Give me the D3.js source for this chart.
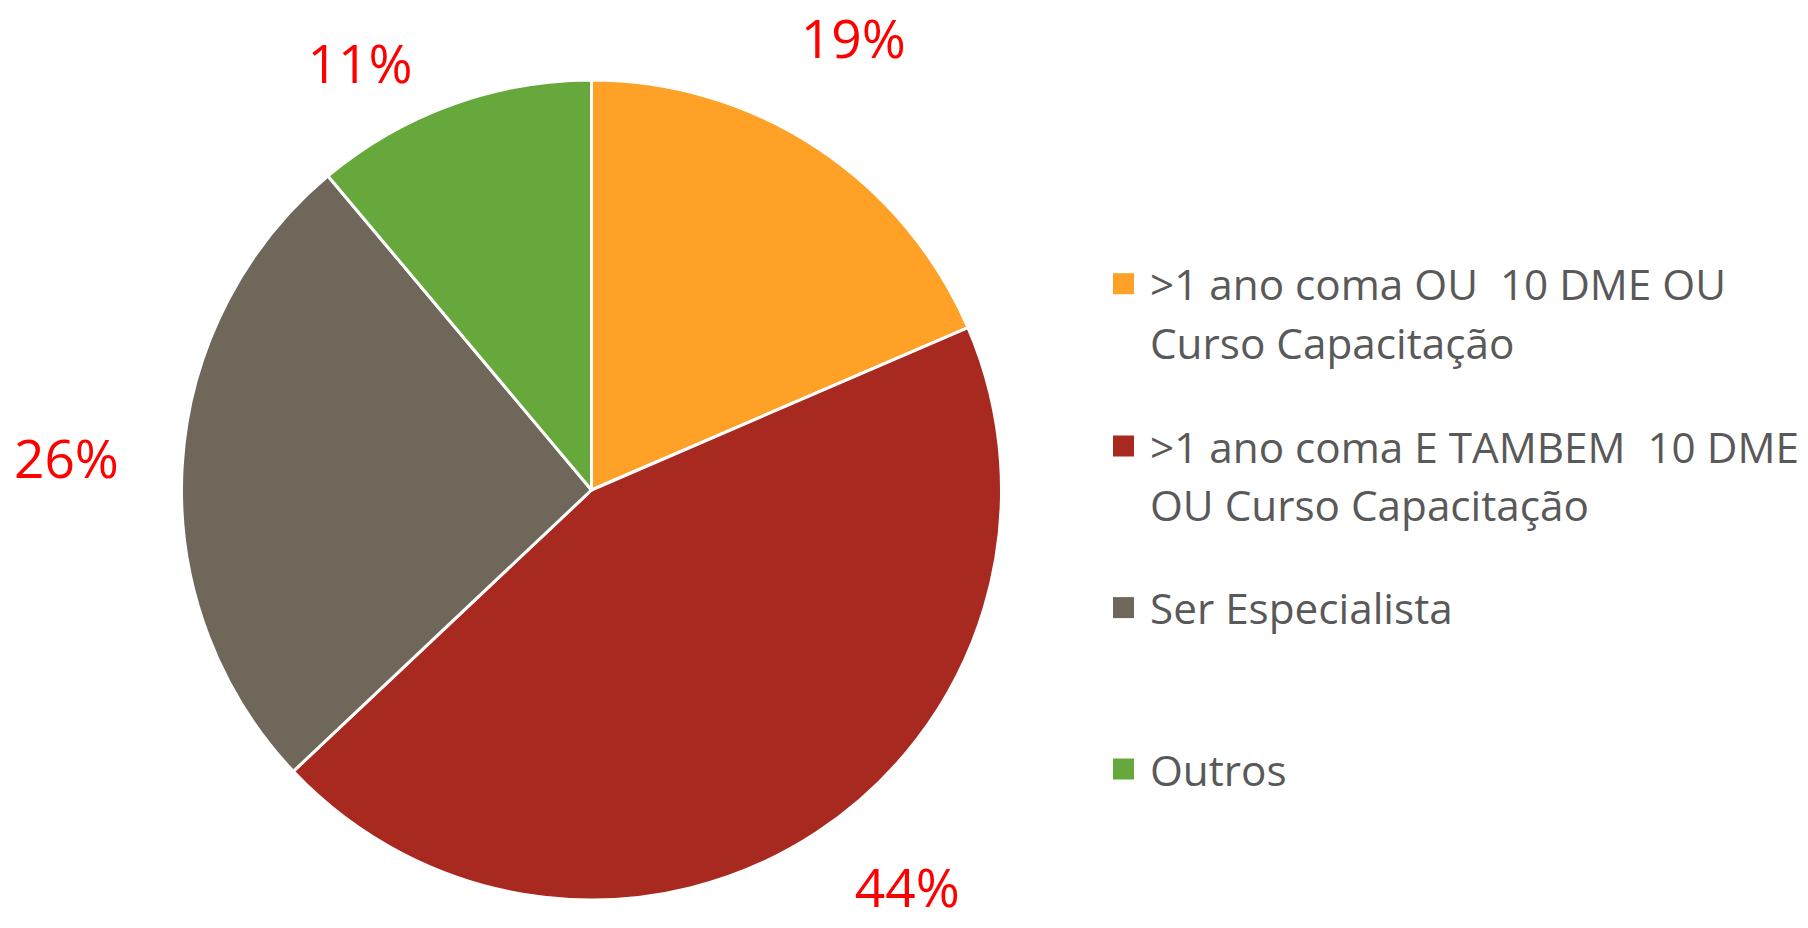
<!DOCTYPE html>
<html><head><meta charset="utf-8">
<script src="https://cdn.jsdelivr.net/npm/d3@7"></script>
<style>html,body{margin:0;padding:0;background:#fff;}svg{display:block;}</style>
</head><body>
<svg id="chart" width="1808" height="928"></svg>
<script>
// Data
const categories = [
  [">1 ano coma OU  10 DME OU", "Curso Capacitação"],
  [">1 ano coma E TAMBEM  10 DME", "OU Curso Capacitação"],
  ["Ser Especialista"],
  ["Outros"]
];
const counts = [5, 12, 7, 3];
const percentLabels = ["19%", "44%", "26%", "11%"];
const colors = ["#FFA126", "#A8291F", "#6F6759", "#67A83D"];

const W = 1808, H = 928;
const svg = d3.select("#chart");
const cx = 591.5, cy = 490, R = 410;

const pie = d3.pie().sort(null).value(d => d)(counts);
const arc = d3.arc().innerRadius(0).outerRadius(R);

const g = svg.append("g").attr("transform", `translate(${cx},${cy})`);
g.selectAll("path").data(pie).join("path")
  .attr("d", arc)
  .attr("fill", (d, i) => colors[i])
  .attr("stroke", "#fff")
  .attr("stroke-width", 3)
  .attr("stroke-linejoin", "round");

// Percentage labels: placed outside along the slice mid-angle, with nudges
const labelArc = d3.arc().innerRadius(522).outerRadius(522);
const labelNudge = [[-25, -16], [29, -40], [-4, -2], [-53, 63]];
const lbl = g.selectAll("text.pct").data(pie).join("text")
  .attr("class", "pct")
  .attr("font-family", "Open Sans, sans-serif")
  .attr("font-size", 54)
  .attr("fill", "#FF0000")
  .attr("text-anchor", "middle")
  .attr("dominant-baseline", "central")
  .text((d, i) => percentLabels[i]);
// fit font size so "26%" is ~105px wide
const w26 = lbl.filter((d, i) => i === 2).node().getComputedTextLength();
const pctSize = 54 * 105 / w26;
lbl.attr("font-size", pctSize)
  .attr("x", (d, i) => labelArc.centroid(d)[0] + labelNudge[i][0])
  .attr("y", (d, i) => labelArc.centroid(d)[1] + labelNudge[i][1]);

// Legend
const legendX = 1113, sq = 21, textX = 1150;
const legendY = [283.7, 446, 607.6, 769];
const lineGap = 58.5;
const leg = svg.append("g");
const items = leg.selectAll("g").data(categories).join("g")
  .attr("transform", (d, i) => `translate(0,${legendY[i]})`);
items.append("rect")
  .attr("x", legendX).attr("y", -sq / 2)
  .attr("width", sq).attr("height", sq)
  .attr("fill", (d, i) => colors[i]);
const texts = items.append("text")
  .attr("x", textX)
  .attr("font-family", "Open Sans, sans-serif")
  .attr("font-size", 40)
  .attr("fill", "#595959")
  .style("white-space", "pre");
texts.selectAll("tspan").data(d => d).join("tspan")
  .attr("x", textX)
  .attr("y", (d, j) => j * lineGap)
  .attr("dominant-baseline", "central")
  .text(d => d);
// fit legend font so longest line spans ~649px
const longest = texts.filter((d, i) => i === 1).select("tspan").node().getComputedTextLength();
texts.attr("font-size", 40 * 649 / longest);
</script>
</body></html>
